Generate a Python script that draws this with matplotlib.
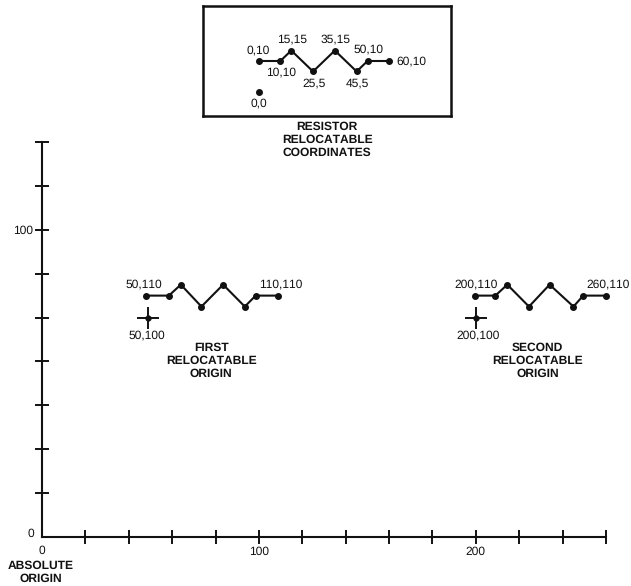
import matplotlib
matplotlib.use("Agg")
import matplotlib.pyplot as plt
import numpy as np

plt.rcParams["font.family"] = ["Liberation Sans", "DejaVu Sans"]
plt.rcParams["text.hinting"] = "none"
plt.rcParams["text.hinting_factor"] = 1

INK = "#111111"
WIDTH, HEIGHT = 631, 586
SMALL = 8.5
BOLD = 8.9

# resistor shape in its own relocatable coordinates
resistor_x = [0, 10, 15, 25, 35, 45, 50, 60]
resistor_y = [10, 10, 15, 5, 15, 5, 10, 10]
resistor_labels = ["0,10", "10,10", "15,15", "25,5", "35,15", "45,5", "50,10", "60,10"]

# the source draws the 0,0 dot a bit below where its scale would put it
local_origin_x = [0]
local_origin_y = [-5]

# main drawing: where the two copies were placed
first_x = [48, 58.5, 64, 73.5, 83.5, 93.5, 98.5, 109]
second_x = [199.5, 209, 214.5, 224.5, 234, 245, 249.5, 260]
placed_y = [110, 110, 115, 105, 115, 105, 110, 110]
first_origin = (49, 100)
second_origin = (200, 100)

x_ticks = list(range(20, 261, 20))
x_tick_labels = ["100" if t == 100 else "200" if t == 200 else "" for t in x_ticks]
y_ticks = list(range(20, 181, 20))
# the only y label in the source sits on the seventh tick
y_tick_labels = ["100" if t == 140 else "" for t in y_ticks]


def px_box(left, top, right, bottom):
    """Turn pixel edges of the picture into a figure rectangle."""
    return [left / WIDTH, 1 - bottom / HEIGHT, (right - left) / WIDTH, (bottom - top) / HEIGHT]


def note(ax, text, x, y, dx, dy, ha="center"):
    # dx, dy are picture pixels away from the point
    ax.annotate(text, (x, y), xytext=(dx * 0.72, dy * 0.72), textcoords="offset points",
                ha=ha, va="center", fontsize=SMALL, color=INK, annotation_clip=False)


def draw_shape(ax, xs, ys):
    ax.plot(xs, ys, color=INK, lw=1.5, marker="o", ms=4, clip_on=False)


def draw_cross(ax, origin):
    ax.plot([origin[0]], [origin[1]], marker="+", ms=15.5, mew=1.4, color=INK, ls="none")
    ax.plot([origin[0]], [origin[1]], marker="o", ms=3.5, color=INK, ls="none")


fig = plt.figure(figsize=(WIDTH / 100, HEIGHT / 100), dpi=100, facecolor="white")

# main axes
ax = fig.add_axes(px_box(42, 142, 606, 537))
ax.set_xlim(0, 260)
ax.set_ylim(0, 180)
ax.patch.set_visible(False)
for side in ["top", "right"]:
    ax.spines[side].set_visible(False)
for side in ["left", "bottom"]:
    ax.spines[side].set_linewidth(1.5)
    ax.spines[side].set_color(INK)
ax.set_xticks(x_ticks, x_tick_labels)
ax.set_yticks(y_ticks, y_tick_labels)
ax.tick_params(axis="both", direction="inout", length=10, width=1.4, pad=1.5,
               labelsize=SMALL, color=INK, labelcolor=INK)
ax.text(0, -6.5, "0", ha="center", va="center", fontsize=SMALL, color=INK)
ax.text(-5, 1.5, "0", ha="center", va="center", fontsize=SMALL, color=INK)
ax.text(-0.5, -16, "ABSOLUTE\nORIGIN", ha="center", va="center", fontsize=BOLD,
        fontweight="bold", color=INK, linespacing=1.15)

draw_shape(ax, first_x, placed_y)
draw_cross(ax, first_origin)
note(ax, "50,110", first_x[0], placed_y[0], -2, 11)
note(ax, "110,110", first_x[-1], placed_y[-1], 2, 11)
note(ax, "50,100", first_origin[0], first_origin[1], -1, -18)
ax.text(78, 80.4, "FIRST\nRELOCATABLE\nORIGIN", ha="center", va="center", fontsize=BOLD,
        fontweight="bold", color=INK, linespacing=1.2)

draw_shape(ax, second_x, placed_y)
draw_cross(ax, second_origin)
note(ax, "200,110", second_x[0], placed_y[0], 1, 11)
note(ax, "260,110", second_x[-1], placed_y[-1], 2, 11)
note(ax, "200,100", second_origin[0], second_origin[1], 2, -18)
ax.text(228.5, 80.4, "SECOND\nRELOCATABLE\nORIGIN", ha="center", va="center", fontsize=BOLD,
        fontweight="bold", color=INK, linespacing=1.2)

ax.text(131.5, 181, "RESISTOR\nRELOCATABLE\nCOORDINATES", ha="center", va="center", fontsize=BOLD,
        fontweight="bold", color=INK, linespacing=1.2)

# boxed resistor at the top
box = fig.add_axes(px_box(203, 6, 451, 116))
box.set_xlim(-25.5, 88.3)
box.set_ylim(-16.2, 36.2)
box.set_xticks([])
box.set_yticks([])
for spine in box.spines.values():
    spine.set_linewidth(1.8)
    spine.set_color(INK)

draw_shape(box, resistor_x, resistor_y)
box.plot(local_origin_x, local_origin_y, marker="o", ms=4, color=INK, ls="none")
label_offsets = [(0, 11), (1, -11), (1, 11), (1, -12), (1, 11), (1, -12), (1, 11.5)]
for i in range(7):
    note(box, resistor_labels[i], resistor_x[i], resistor_y[i], *label_offsets[i])
note(box, resistor_labels[7], resistor_x[7], resistor_y[7], 7, 0, ha="left")
note(box, "0,0", local_origin_x[0], local_origin_y[0], 0, -11)

fig.savefig("out.png", dpi=100, facecolor="white")
